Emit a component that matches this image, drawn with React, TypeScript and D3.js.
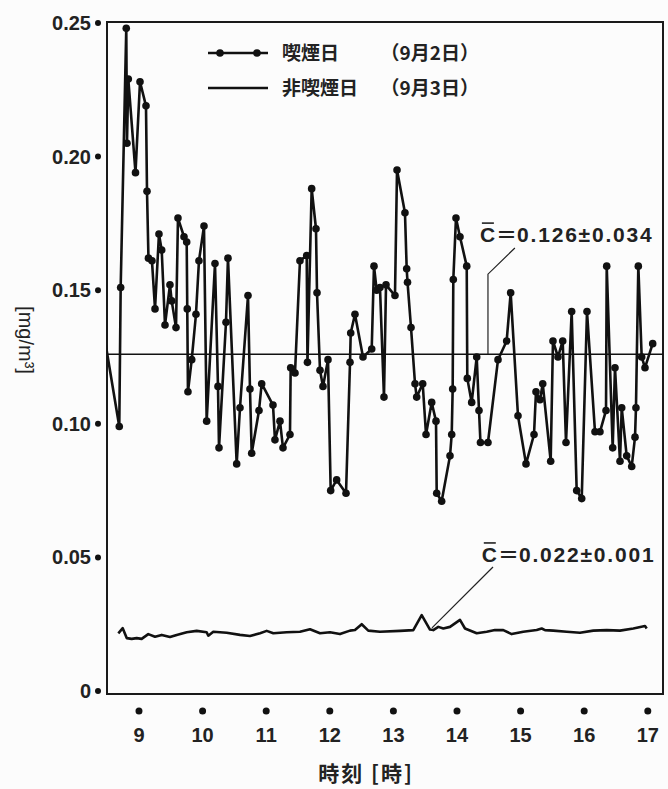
import React, { useEffect, useRef } from 'react';
import * as d3 from 'd3';

const width = 668;
const height = 789;

// smoking day (9/2), hours and mg/m3
const smokeTimes = [
  8.418, 8.690, 8.712, 8.800, 8.811, 8.832, 8.945, 9.016, 9.110, 9.126,
  9.149, 9.204, 9.252, 9.314, 9.357, 9.409, 9.487, 9.514, 9.582, 9.613,
  9.708, 9.750, 9.759, 9.770, 9.829, 9.896, 9.943, 10.022, 10.064, 10.195,
  10.242, 10.258, 10.368, 10.399, 10.536, 10.588, 10.714, 10.745, 10.772, 10.887,
  10.929, 11.107, 11.138, 11.217, 11.264, 11.374, 11.385, 11.453, 11.531, 11.637,
  11.649, 11.715, 11.783, 11.799, 11.846, 11.893, 11.972, 12.014, 12.108, 12.255,
  12.318, 12.329, 12.396, 12.522, 12.659, 12.695, 12.737, 12.789, 12.852, 12.884,
  13.025, 13.057, 13.182, 13.209, 13.222, 13.277, 13.340, 13.366, 13.461, 13.513,
  13.602, 13.670, 13.681, 13.759, 13.890, 13.917, 13.932, 13.942, 13.984, 14.047,
  14.153, 14.162, 14.231, 14.310, 14.346, 14.369, 14.487, 14.645, 14.781, 14.844,
  14.959, 15.085, 15.211, 15.242, 15.305, 15.348, 15.473, 15.509, 15.588, 15.662,
  15.714, 15.803, 15.882, 15.961, 16.044, 16.170, 16.248, 16.343, 16.354, 16.448,
  16.484, 16.563, 16.590, 16.668, 16.747, 16.799, 16.814, 16.851, 16.904, 16.956,
  17.077
];
const smokeValues = [
  0.138, 0.099, 0.151, 0.248, 0.205, 0.229, 0.194, 0.228, 0.219, 0.187,
  0.162, 0.161, 0.143, 0.171, 0.165, 0.137, 0.152, 0.146, 0.136, 0.177,
  0.170, 0.168, 0.143, 0.112, 0.124, 0.141, 0.161, 0.174, 0.101, 0.160,
  0.114, 0.091, 0.138, 0.162, 0.085, 0.106, 0.148, 0.113, 0.089, 0.105,
  0.115, 0.107, 0.094, 0.101, 0.091, 0.096, 0.121, 0.119, 0.161, 0.163,
  0.123, 0.188, 0.173, 0.149, 0.120, 0.114, 0.124, 0.075, 0.079, 0.074,
  0.123, 0.134, 0.141, 0.125, 0.128, 0.159, 0.150, 0.151, 0.110, 0.152,
  0.148, 0.195, 0.179, 0.158, 0.153, 0.136, 0.115, 0.110, 0.115, 0.096,
  0.108, 0.101, 0.074, 0.071, 0.088, 0.096, 0.113, 0.154, 0.177, 0.170,
  0.159, 0.117, 0.108, 0.125, 0.105, 0.093, 0.093, 0.124, 0.131, 0.149,
  0.103, 0.085, 0.096, 0.112, 0.109, 0.115, 0.086, 0.131, 0.125, 0.131,
  0.093, 0.142, 0.075, 0.072, 0.142, 0.097, 0.097, 0.105, 0.159, 0.091,
  0.121, 0.086, 0.106, 0.088, 0.084, 0.095, 0.106, 0.159, 0.125, 0.121,
  0.130
];

// non-smoking day (9/3)
const quietTimes = [
  8.675, 8.744, 8.807, 8.885, 8.964, 9.042, 9.146, 9.252, 9.357, 9.487,
  9.593, 9.750, 9.907, 10.064, 10.090, 10.168, 10.379, 10.588, 10.745, 10.903,
  11.008, 11.112, 11.322, 11.531, 11.689, 11.846, 12.003, 12.160, 12.318, 12.396,
  12.502, 12.605, 12.789, 13.104, 13.313, 13.445, 13.575, 13.627, 13.706, 13.785,
  13.890, 14.047, 14.126, 14.310, 14.467, 14.597, 14.728, 14.860, 15.042, 15.253,
  15.332, 15.384, 15.514, 15.725, 15.934, 16.143, 16.354, 16.563, 16.772, 16.956,
  16.983
];
const quietValues = [
  0.0216, 0.0235, 0.0198, 0.0195, 0.0198, 0.0195, 0.0213, 0.0203, 0.0210, 0.0202,
  0.0210, 0.0220, 0.0225, 0.0220, 0.0207, 0.0222, 0.0218, 0.0210, 0.0206, 0.0216,
  0.0225, 0.0216, 0.0220, 0.0222, 0.0231, 0.0216, 0.0220, 0.0213, 0.0226, 0.0228,
  0.0250, 0.0226, 0.0222, 0.0225, 0.0228, 0.0284, 0.0230, 0.0228, 0.0240, 0.0234,
  0.0240, 0.0266, 0.0234, 0.0216, 0.0222, 0.0228, 0.0228, 0.0213, 0.0222, 0.0228,
  0.0234, 0.0228, 0.0226, 0.0222, 0.0218, 0.0226, 0.0228, 0.0226, 0.0234, 0.0243,
  0.0234
];

const smokeMean = 0.126;

const yTicks = [0, 0.05, 0.1, 0.15, 0.2, 0.25];
const yTickLabels = ['0', '0.05', '0.10', '0.15', '0.20', '0.25'];
const xTicks = [9, 10, 11, 12, 13, 14, 15, 16, 17];

const legendNames = ['喫煙日', '非喫煙日'];
const legendDates = ['（9月2日）', '（9月3日）'];

// label anchor, leader line points (time, value)
const notes = [
  { text: '＝0.126±0.034', at: [14.36, 0.168], leader: [[14.91, 0.1658], [14.487, 0.156], [14.487, 0.126]] },
  { text: '＝0.022±0.001', at: [14.39, 0.0483], leader: [[14.566, 0.0464], [13.607, 0.0236]] }
];

const numFont = '"Liberation Sans", Arial, sans-serif';
const jpFont = '"Noto Sans CJK JP", sans-serif';

export default function App() {
  const ref = useRef<SVGSVGElement>(null);

  useEffect(() => {
    const svg = d3.select(ref.current);
    svg.selectAll('*').remove();

    const x = d3.scaleLinear().domain([8.497, 17.239]).range([107, 663]);
    const y = d3.scaleLinear().domain([0, 0.25]).range([691, 23]);

    svg.append('rect').attr('width', width).attr('height', height).attr('fill', '#fcfcfc');

    svg.append('clipPath').attr('id', 'plotclip')
      .append('rect')
      .attr('x', x.range()[0]).attr('y', y(0.25) - 1)
      .attr('width', x.range()[1] - x.range()[0]).attr('height', y(0) - y(0.25) + 4);

    // frame
    svg.append('rect')
      .attr('x', x.range()[0]).attr('y', y(0.25) - 1)
      .attr('width', x.range()[1] - x.range()[0]).attr('height', y(0) - y(0.25) + 4)
      .attr('fill', 'none').attr('stroke', '#1a1a1a').attr('stroke-width', 2);

    // y ticks: dot + label
    const yt = svg.append('g');
    yt.selectAll('circle').data(yTicks).enter().append('circle')
      .attr('cx', 98).attr('cy', d => y(d)).attr('r', 3).attr('fill', '#111');
    yt.selectAll('text').data(yTicks).enter().append('text')
      .attr('x', 91).attr('y', d => y(d) + 7)
      .attr('text-anchor', 'end')
      .style('font', `bold 20px ${numFont}`).attr('fill', '#222')
      .text((d, i) => yTickLabels[i]);

    // x ticks
    const xt = svg.append('g');
    xt.selectAll('circle').data(xTicks).enter().append('circle')
      .attr('cx', d => x(d)).attr('cy', 711).attr('r', 3.5).attr('fill', '#111');
    xt.selectAll('text').data(xTicks).enter().append('text')
      .attr('x', d => x(d)).attr('y', 742)
      .attr('text-anchor', 'middle')
      .style('font', `bold 20px ${numFont}`).attr('fill', '#222')
      .text(d => d);

    svg.append('text')
      .attr('x', 366).attr('y', 781).attr('text-anchor', 'middle')
      .attr('letter-spacing', 2)
      .style('font', `bold 21px ${jpFont}`).attr('fill', '#222')
      .text('時刻 [時]');

    svg.append('text')
      .attr('transform', 'translate(19,340) rotate(90)')
      .attr('text-anchor', 'middle')
      .style('font', `20px ${numFont}`).attr('fill', '#222')
      .text('[mg/m³]');

    const plot = svg.append('g').attr('clip-path', 'url(#plotclip)');

    // mean line
    plot.append('line')
      .attr('x1', x.range()[0]).attr('x2', x.range()[1])
      .attr('y1', y(smokeMean)).attr('y2', y(smokeMean))
      .attr('stroke', '#111').attr('stroke-width', 1.5);

    const quiet = d3.line<number>()
      .x((d, i) => x(quietTimes[i]))
      .y(d => y(d));
    plot.append('path')
      .attr('d', quiet(quietValues))
      .attr('fill', 'none').attr('stroke', '#111').attr('stroke-width', 2.6)
      .attr('stroke-linejoin', 'round');

    const smoke = d3.line<number>()
      .x((d, i) => x(smokeTimes[i]))
      .y(d => y(d));
    plot.append('path')
      .attr('d', smoke(smokeValues))
      .attr('fill', 'none').attr('stroke', '#111').attr('stroke-width', 2.6)
      .attr('stroke-linejoin', 'round');
    plot.selectAll('.dot').data(smokeValues).enter().append('circle')
      .attr('class', 'dot')
      .attr('cx', (d, i) => x(smokeTimes[i]))
      .attr('cy', d => y(d))
      .attr('r', 3.8).attr('fill', '#111');

    // annotations
    notes.forEach(n => {
      const tx = x(n.at[0]);
      const ty = y(n.at[1]);
      const t = svg.append('text').attr('x', tx).attr('y', ty)
        .style('font', `bold 21px ${numFont}`).attr('fill', '#222');
      t.append('tspan').text('C');
      t.append('tspan').style('font-family', jpFont).style('font-weight', 'bold').attr('dx', 1).text(n.text.slice(0, 1));
      t.append('tspan').attr('letter-spacing', 1.8).text(n.text.slice(1));
      svg.append('line')
        .attr('x1', tx + 2).attr('x2', tx + 14)
        .attr('y1', ty - 19).attr('y2', ty - 19)
        .attr('stroke', '#222').attr('stroke-width', 1.6);
      svg.append('path')
        .attr('d', d3.line<number[]>().x(p => x(p[0])).y(p => y(p[1]))(n.leader))
        .attr('fill', 'none').attr('stroke', '#222').attr('stroke-width', 1.2);
    });

    // legend
    const lg = svg.append('g');
    [53, 88].forEach((ly, i) => {
      lg.append('line').attr('x1', 208).attr('x2', 268).attr('y1', ly).attr('y2', ly)
        .attr('stroke', '#111').attr('stroke-width', 2.6);
      if (i === 0) {
        [220, 257].forEach(cx => lg.append('circle').attr('cx', cx).attr('cy', ly).attr('r', 3.8).attr('fill', '#111'));
      }
      lg.append('text').attr('x', 282).attr('y', ly + 7)
        .style('font', `bold 19px ${jpFont}`).attr('fill', '#222')
        .text(legendNames[i]);
      lg.append('text').attr('x', 479).attr('y', ly + 7).attr('text-anchor', 'end')
        .style('font', `bold 19px ${jpFont}`).attr('fill', '#222')
        .text(legendDates[i]);
    });
  }, []);

  return (
    <svg ref={ref} width={width} height={height}
      style={{ position: 'absolute', left: 0, top: 0 }} />
  );
}
